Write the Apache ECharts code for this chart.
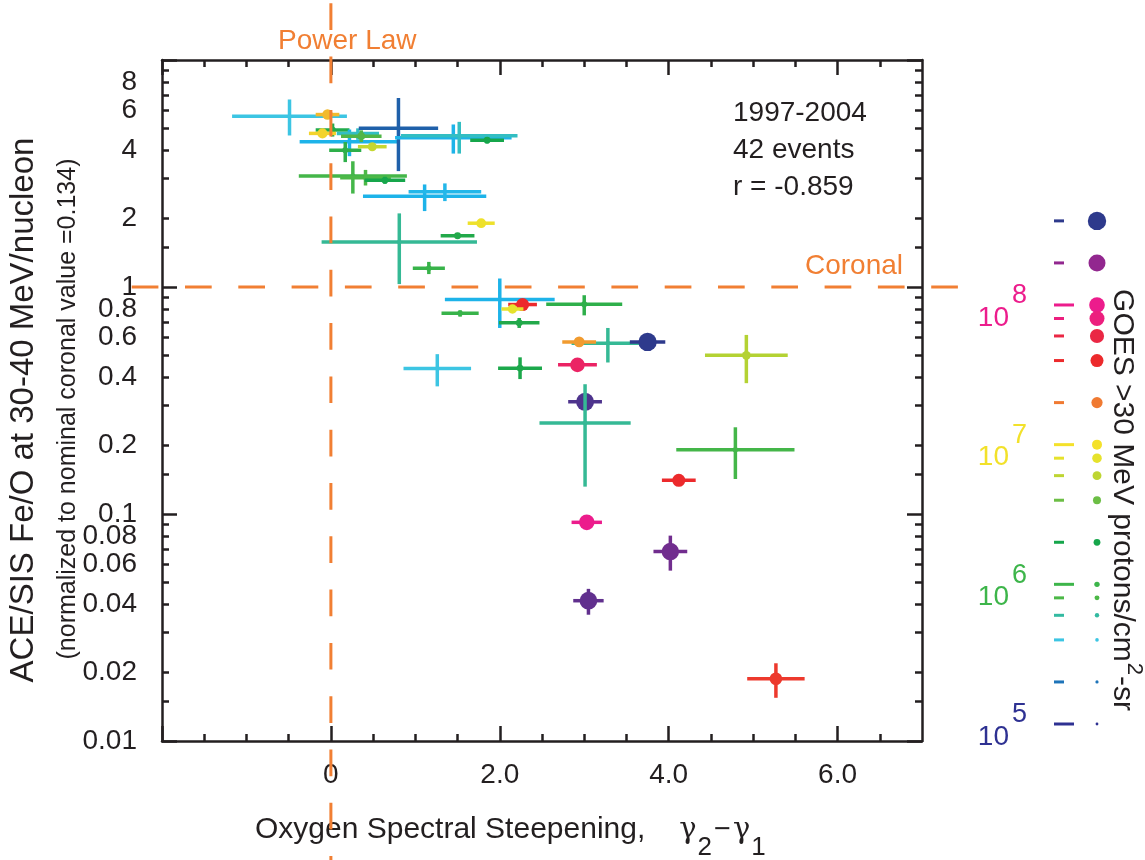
<!DOCTYPE html>
<html><head><meta charset="utf-8">
<script src="https://cdn.jsdelivr.net/npm/echarts@6/dist/echarts.min.js"></script>
<style>html,body{margin:0;padding:0;background:#fff}#c{width:1145px;height:860px}</style>
</head><body><div id="c"></div>
<script>
// ---------- data ----------
const evX = [-0.49,-0.04,0.02,-0.10,0.22,0.32,0.36,0.80,1.45,1.52,1.85,0.17,0.49,0.26,0.41,0.64,1.11,1.35,1.78,1.50,0.81,1.16,2.00,2.27,2.15,3.00,1.53,2.23,3.28,2.94,3.75,1.26,2.24,2.92,3.01,3.01,4.79,4.12,3.03,4.02,3.05,5.27,4.92];
const evY = [5.65,5.75,4.92,4.75,4.36,4.74,4.62,5.0,4.54,4.64,4.43,4.0,4.15,3.08,3.03,2.95,2.51,2.63,1.91,1.68,1.58,1.21,0.88,0.837,0.80,0.84,0.766,0.695,0.565,0.573,0.573,0.4375,0.439,0.454,0.312,0.252,0.192,0.1407,0.0919,0.0683,0.0415,0.0188,0.50];
const evXErr = [0.68,0.14,0.20,0.16,0.59,0.25,0.24,0.47,0.69,0.69,0.20,0.19,0.17,0.64,0.30,0.24,0.73,0.43,0.16,0.20,0.92,0.19,0.65,0.17,0.13,0.45,0.22,0.24,0.43,0.20,0.21,0.40,0.26,0.23,0.20,0.54,0.70,0.20,0.18,0.20,0.18,0.34,0.49];
const evYLow = [4.65,5.55,4.6,4.6,3.77,4.45,4.35,3.24,3.87,3.87,4.3,3.55,4.05,2.58,2.8,2.85,2.16,2.39,1.86,1.63,1.03,1.14,0.66,0.81,0.78,0.75,0.74,0.66,0.465,0.545,0.56,0.365,0.393,0.44,0.30,0.132,0.1426,0.136,0.089,0.0563,0.036,0.0155,0.377];
const evYHigh = [6.7,5.95,5.25,4.9,4.94,5.0,4.9,6.8,5.2,5.34,4.56,4.35,4.25,3.58,3.28,3.06,2.83,2.86,1.96,1.73,2.11,1.29,1.09,0.865,0.82,0.92,0.79,0.73,0.66,0.60,0.585,0.506,0.49,0.468,0.325,0.373,0.241,0.146,0.095,0.0803,0.0468,0.022,0.615];
// GOES >30 MeV proton fluence of each event (protons/cm2-sr)
const evFluence = [4e5,1.3e7,1.6e6,1.1e7,2.8e5,5e5,3.2e6,1.8e5,2.8e5,5e5,2e6,1.3e6,6.3e6,9e5,8e5,2e6,2.8e5,3e5,9e6,2.2e6,6.3e5,1.1e6,2.8e5,4e7,8e6,1.3e6,1.1e6,2.2e6,6.3e5,1.6e7,4e8,4e5,1.8e6,7e7,3.2e8,6.3e5,9e5,4e7,1e8,2.5e8,2.8e8,3.5e7,5.6e6];

const legendFluence = [4e8,2e8,1e8,8e7,6e7,4e7,2e7,1e7,8e6,6e6,4e6,2e6,1e6,8e5,6e5,4e5,2e5,1e5];

const xLabelValues = [0,2,4,6];
const xMajorTicks = [-2,0,2,4,6];
const xMinorTicks = [-1.5,-1,-0.5,0.5,1,1.5,2.5,3,3.5,4.5,5,5.5,6.5];
const yLabelValues = [0.01,0.02,0.04,0.06,0.08,0.1,0.2,0.4,0.6,0.8,1,2,4,6,8];
const yMajorTicks = [0.01,0.1,1,10];
const yMinorTicks = [0.015,0.02,0.03,0.04,0.05,0.06,0.07,0.08,0.09,0.15,0.2,0.3,0.4,0.5,0.6,0.7,0.8,0.9,1.5,2,3,4,5,6,7,8,9];

const powerLawX = 0;      // power-law: no steepening
const coronalRatio = 1;   // normalized coronal Fe/O

const statsLines = ['1997-2004','42 events','r = -0.859'];

// ---------- styles ----------
const TXT = '#231F20';
const ORANGE = '#F17F33';
const FONT = "'Liberation Sans', Arial, Helvetica, sans-serif";
const colorStops = [[5.0,'#2E3192'],[5.25,'#1F5EA8'],[5.45,'#1DB4EA'],[5.6,'#3CC5E4'],[5.75,'#2FBBB0'],[5.82,'#38B88A'],[5.9,'#4CB847'],[6.0,'#3DB54A'],[6.3,'#16A64B'],[6.6,'#6BBE45'],[6.75,'#B5D233'],[6.9,'#E6E22C'],[7.0,'#F4E12A'],[7.3,'#F07A32'],[7.6,'#EC2A2C'],[7.77,'#EA2840'],[7.9,'#EC1F7E'],[8.0,'#EC1C8C'],[8.3,'#92278F'],[8.6,'#2E3A8C']];
const radiusStops = [[5.0,1.4],[5.6,1.8],[6.0,2.7],[6.3,3.4],[6.6,4.0],[7.0,5.0],[7.3,5.6],[7.6,6.5],[8.0,7.8],[8.3,8.5],[8.6,9.2]];
const decadeColor = {5:'#2E3192',6:'#3DB54A',7:'#F2E12A',8:'#EC1C8C'};

function seg(stops, v){
  if (v <= stops[0][0]) return [0,0,0];
  for (let i=1;i<stops.length;i++) if (v <= stops[i][0]) return [i-1,i,(v-stops[i-1][0])/(stops[i][0]-stops[i-1][0])];
  const n = stops.length-1; return [n,n,0];
}
function hex(h){return [1,3,5].map(k=>parseInt(h.slice(k,k+2),16));}
function colorOf(f){
  const [a,b,t] = seg(colorStops, Math.log10(f));
  const ca = hex(colorStops[a][1]), cb = hex(colorStops[b][1]);
  return 'rgb(' + ca.map((c,i)=>Math.round(c+(cb[i]-c)*t)).join(',') + ')';
}
function radiusOf(f){
  const [a,b,t] = seg(radiusStops, Math.log10(f));
  return radiusStops[a][1] + (radiusStops[b][1]-radiusStops[a][1])*t;
}

const evData = evX.map((x,i)=>[x, evY[i], evXErr[i], evYLow[i], evYHigh[i], evFluence[i]]);
const legData = legendFluence.map(f=>[0, f]);

const chart = echarts.init(document.getElementById('c'), null, {renderer:'canvas'});

const X_MIN=-2, X_MAX=7, Y_MIN=0.01, Y_MAX=10;
const axisLineOn = {show:true, onZero:false, lineStyle:{color:TXT, width:2.5}};
const axisLineOff = {show:false, onZero:false};
function xAx(pos, ticks, len, showLine, showLabel){
  return {type:'value', gridIndex:0, position:pos, min:X_MIN, max:X_MAX,
    axisLine: showLine ? axisLineOn : axisLineOff,
    axisTick:{show:true, inside:true, length:len, customValues:ticks, lineStyle:{color:TXT, width:2.5}},
    splitLine:{show:false},
    axisLabel: showLabel ? {show:true, customValues:xLabelValues, margin:20, fontSize:28, color:TXT, fontFamily:FONT,
      formatter:v=> v===0 ? '0' : Number(v).toFixed(1)} : {show:false}};
}
function yAx(pos, ticks, len, showLine, showLabel){
  return {type:'log', logBase:10, gridIndex:0, position:pos, min:Y_MIN, max:Y_MAX,
    axisLine: showLine ? axisLineOn : axisLineOff,
    axisTick:{show:true, inside:true, length:len, customValues:ticks, lineStyle:{color:TXT, width:2.5}},
    splitLine:{show:false}, minorTick:{show:false},
    axisLabel: showLabel ? {show:true, customValues:yLabelValues, margin:25, fontSize:28, color:TXT, fontFamily:FONT,
      formatter:v=> String(parseFloat(Number(v).toPrecision(6)))} : {show:false}};
}

const option = {
  animation:false,
  backgroundColor:'#fff',
  grid:[
    {left:162, right:223, top:60, bottom:119},
    {left:1054, width:43, top:165.3, bottom:136}
  ],
  xAxis:[
    xAx('bottom', xMajorTicks, 15, true, true),
    xAx('bottom', xMinorTicks, 7, false, false),
    xAx('top', xMajorTicks, 15, true, false),
    xAx('top', xMinorTicks, 7, false, false),
    {type:'value', gridIndex:1, min:0, max:1, show:false}
  ],
  yAxis:[
    yAx('left', yMajorTicks, 15, true, true),
    yAx('left', yMinorTicks, 7, false, false),
    yAx('right', yMajorTicks, 15, true, false),
    yAx('right', yMinorTicks, 7, false, false),
    {type:'log', logBase:10, gridIndex:1, min:1e5, max:1e9, show:false}
  ],
  series:[
    {
      type:'custom', name:'events', xAxisIndex:0, yAxisIndex:0, z:2, silent:true,
      data: evData,
      renderItem(params, api){
        const x=api.value(0), y=api.value(1), xe=api.value(2), yl=api.value(3), yh=api.value(4), f=api.value(5);
        const c = colorOf(f);
        const pL=api.coord([x-xe,y]), pR=api.coord([x+xe,y]), pB=api.coord([x,yl]), pT=api.coord([x,yh]), pC=api.coord([x,y]);
        return {type:'group', children:[
          {type:'line', shape:{x1:pL[0],y1:pL[1],x2:pR[0],y2:pR[1]}, style:{stroke:c, lineWidth:3.5}},
          {type:'line', shape:{x1:pB[0],y1:pB[1],x2:pT[0],y2:pT[1]}, style:{stroke:c, lineWidth:3.5}},
          {type:'circle', shape:{cx:pC[0],cy:pC[1],r:radiusOf(f)}, style:{fill:c}}
        ]};
      }
    },
    {
      type:'custom', name:'reference lines', xAxisIndex:0, yAxisIndex:0, z:3, silent:true,
      data:[[powerLawX, coronalRatio]],
      renderItem(params, api){
        const p = api.coord([api.value(0), api.value(1)]);
        const xl = api.coord([X_MIN, api.value(1)])[0] - 30.3;
        const H = api.getHeight();
        return {type:'group', children:[
          {type:'line', shape:{x1:p[0],y1:0,x2:p[0],y2:H}, style:{stroke:ORANGE, lineWidth:3, lineDash:[26.7,26.6], lineDashOffset:50}},
          {type:'line', shape:{x1:xl,y1:p[1],x2:xl+15*53.3+26.7,y2:p[1]}, style:{stroke:ORANGE, lineWidth:3, lineDash:[26.7,26.6]}}
        ]};
      }
    },
    {
      type:'custom', name:'fluence key', xAxisIndex:4, yAxisIndex:4, z:2, silent:true,
      data: legData,
      renderItem(params, api){
        const f = api.value(1);
        const p0 = api.coord([0,f]), p1 = api.coord([1,f]);
        const lg = Math.log10(f), e = Math.round(lg), isDec = Math.abs(lg-e)<1e-9;
        const c = colorOf(f);
        const kids = [
          {type:'line', shape:{x1:p0[0],y1:p0[1],x2:p0[0]+(isDec?20:10),y2:p0[1]}, style:{stroke:c, lineWidth:3}},
          {type:'circle', shape:{cx:p1[0],cy:p1[1],r:radiusOf(f)}, style:{fill:c}}
        ];
        if (isDec && decadeColor[e]) {
          const dc = decadeColor[e];
          kids.push({type:'text', x:p0[0]-27, y:p0[1]+2, style:{text:'{b|10}{s|'+e+'}', align:'right', verticalAlign:'middle',
            rich:{
              b:{fontSize:28, fontFamily:FONT, fill:dc, lineHeight:28, padding:[22,0,0,0]},
              s:{fontSize:27, fontFamily:FONT, fill:dc, lineHeight:28, padding:[0,0,22,3]}
            }}});
        }
        return {type:'group', children:kids};
      }
    }
  ],
  graphic:[
    {type:'text', x:278, y:41, style:{text:'Power Law', fontSize:28, fontFamily:FONT, fill:ORANGE, align:'left', verticalAlign:'middle'}},
    {type:'text', x:903, y:266, style:{text:'Coronal', fontSize:28, fontFamily:FONT, fill:ORANGE, align:'right', verticalAlign:'middle'}},
    {type:'text', x:733, y:113, style:{text:statsLines[0], fontSize:28, fontFamily:FONT, fill:TXT, align:'left', verticalAlign:'middle'}},
    {type:'text', x:733, y:150, style:{text:statsLines[1], fontSize:28, fontFamily:FONT, fill:TXT, align:'left', verticalAlign:'middle'}},
    {type:'text', x:733, y:187, style:{text:statsLines[2], fontSize:28, fontFamily:FONT, fill:TXT, align:'left', verticalAlign:'middle'}},
    {type:'text', x:24, y:410, rotation:Math.PI/2, style:{text:'ACE/SIS Fe/O at 30-40 MeV/nucleon', fontSize:33, fontFamily:FONT, fill:TXT, align:'center', verticalAlign:'middle'}},
    {type:'text', x:68, y:409, rotation:Math.PI/2, style:{text:'(normalized to nominal coronal value =0.134)', fontSize:25, fontFamily:FONT, fill:TXT, align:'center', verticalAlign:'middle'}},
    {type:'text', x:255, y:838, style:{text:'{t|Oxygen Spectral Steepening,}{sp| }{g|γ}{s|2}{m|−}{g|γ}{s|1}', fill:TXT, align:'left', verticalAlign:'middle',
      rich:{
        t:{fontSize:30, fontFamily:FONT, fill:TXT, lineHeight:30, padding:[0,0,16,0]},
        sp:{fontSize:30, width:34, lineHeight:30, padding:[0,0,16,0]},
        g:{fontSize:29, fontFamily:"'DejaVu Serif', serif", fill:TXT, lineHeight:30, padding:[0,0,16,0]},
        m:{fontSize:29, fontFamily:FONT, fill:TXT, lineHeight:30, padding:[0,2,16,2]},
        s:{fontSize:26, fontFamily:FONT, fill:TXT, lineHeight:26, padding:[20,0,0,1]}
      }}},
    {type:'text', x:1126, y:500, rotation:-Math.PI/2, style:{text:'{t|GOES >30 MeV protons/cm}{u|2}{t|-sr}', align:'center', verticalAlign:'middle',
      rich:{
        t:{fontSize:30, fontFamily:FONT, fill:TXT, lineHeight:30, padding:[8,0,0,0]},
        u:{fontSize:22, fontFamily:FONT, fill:TXT, lineHeight:22, padding:[0,1,16,1]}
      }}}
  ]
};
chart.setOption(option);
</script>
</body></html>
